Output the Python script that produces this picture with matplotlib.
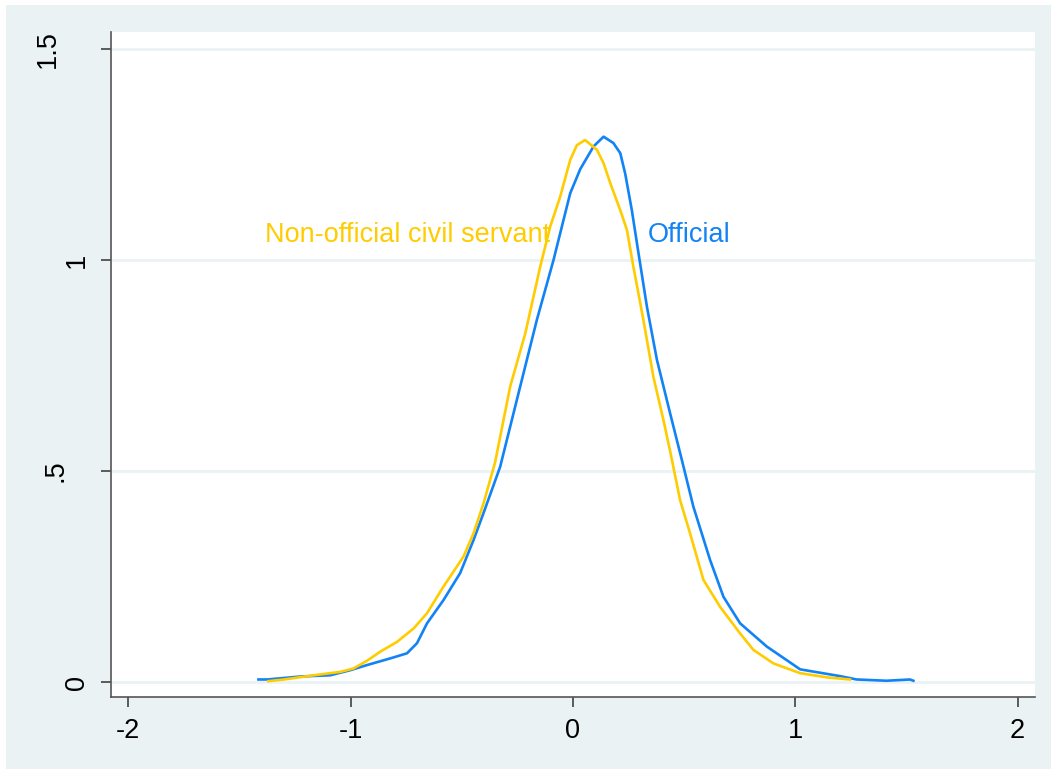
import numpy as np
import matplotlib
matplotlib.use("Agg")
import matplotlib.pyplot as plt
from matplotlib.patches import Rectangle
from matplotlib.transforms import ScaledTranslation

# ------------------------------------------------------------------------------
# DATA

# Official (blue)
off_x = [-1.414, -1.375, -1.226, -1.091, -1.001, -0.927, -0.821, -0.746, -0.701,
         -0.656, -0.582, -0.507, -0.447, -0.402, -0.327, -0.237, -0.162, -0.087,
         -0.042, -0.012, 0.033, 0.093, 0.138, 0.182, 0.213, 0.235, 0.265, 0.295,
         0.333, 0.378, 0.437, 0.490, 0.542, 0.617, 0.677, 0.752, 0.872, 1.022,
         1.201, 1.276, 1.411, 1.516, 1.531]
off_y = [0.006, 0.006, 0.013, 0.016, 0.028, 0.040, 0.056, 0.068, 0.092,
         0.139, 0.194, 0.258, 0.336, 0.400, 0.510, 0.700, 0.858, 1.000,
         1.095, 1.158, 1.215, 1.269, 1.292, 1.277, 1.253, 1.205, 1.118, 1.016,
         0.889, 0.763, 0.637, 0.526, 0.415, 0.289, 0.202, 0.139, 0.084, 0.030,
         0.014, 0.006, 0.003, 0.006, 0.003]

# Non-official civil servant (yellow)
non_x = [-1.37, -1.30, -1.15, -1.046, -0.987, -0.927, -0.866, -0.791, -0.716,
         -0.656, -0.582, -0.492, -0.447, -0.402, -0.350, -0.282, -0.214, -0.147,
         -0.102, -0.057, -0.012, 0.018, 0.055, 0.108, 0.138, 0.168, 0.213, 0.243,
         0.272, 0.317, 0.362, 0.407, 0.440, 0.482, 0.527, 0.587, 0.662, 0.752,
         0.812, 0.902, 1.022, 1.142, 1.246]
non_y = [0.002, 0.006, 0.017, 0.024, 0.032, 0.050, 0.072, 0.095, 0.127,
         0.163, 0.226, 0.297, 0.352, 0.423, 0.520, 0.700, 0.826, 0.984,
         1.079, 1.150, 1.237, 1.272, 1.284, 1.261, 1.229, 1.182, 1.118, 1.071,
         0.984, 0.858, 0.723, 0.621, 0.540, 0.431, 0.352, 0.242, 0.178, 0.115,
         0.076, 0.044, 0.021, 0.011, 0.006]

x_ticks = [-2, -1, 0, 1, 2]
y_ticks = [0, 0.5, 1, 1.5]
y_labels = ["0", ".5", "1", "1.5"]

BG = "#EAF2F3"
BLUE = "#1183F5"
YELLOW = "#FFCC00"

plt.rcParams['font.family'] = ['Liberation Sans', 'DejaVu Sans']

fig = plt.figure(figsize=(10.51, 7.69), dpi=100)
fig.patch.set_facecolor(BG)
# thin white strips on top and left, like the reference export
fig.add_artist(Rectangle((0, 1 - 5 / 769), 1, 5 / 769, transform=fig.transFigure,
                         facecolor="white", edgecolor="none"))
fig.add_artist(Rectangle((0, 0), 6 / 1051, 1, transform=fig.transFigure,
                         facecolor="white", edgecolor="none"))

ax = fig.add_axes([111 / 1051, 1 - 697 / 769, (1035 - 111) / 1051, (697 - 32) / 769])
ax.set_facecolor("white")

for yt in y_ticks:
    ax.axhline(yt, color=BG, linewidth=2, zorder=1)

ax.plot(off_x, off_y, color=BLUE, linewidth=1.9, zorder=3)
ax.plot(non_x, non_y, color=YELLOW, linewidth=1.9, zorder=3)

ax.text(-1.383, 1.059, "Non-official civil servant", color=YELLOW,
        fontsize=19.5, ha="left", va="center", zorder=4)
ax.text(0.338, 1.059, "Official", color=BLUE,
        fontsize=19.5, ha="left", va="center", zorder=4)

ax.set_xlim(-2.077, 2.078)
ax.set_ylim(-0.0355, 1.540)
ax.set_xticks(x_ticks)
ax.set_xticklabels([str(t) for t in x_ticks])
ax.set_yticks(y_ticks)
ax.set_yticklabels(y_labels, rotation=90, va="center")

for side in ["top", "right"]:
    ax.spines[side].set_visible(False)
for side in ["left", "bottom"]:
    ax.spines[side].set_color("#555555")
    ax.spines[side].set_linewidth(1.2)

ax.tick_params(axis="both", direction="out", length=7, width=1.1,
               color="#333333", labelsize=19.5, labelcolor="black", pad=8)

# stata shifts the longer rotated labels further left
shift = {".5": -0.22, "1.5": -0.29}
for lab in ax.get_yticklabels():
    dx = shift.get(lab.get_text(), 0)
    if dx:
        lab.set_transform(lab.get_transform() + ScaledTranslation(dx, 0, fig.dpi_scale_trans))

fig.savefig("out.png", dpi=100, facecolor=fig.get_facecolor())
